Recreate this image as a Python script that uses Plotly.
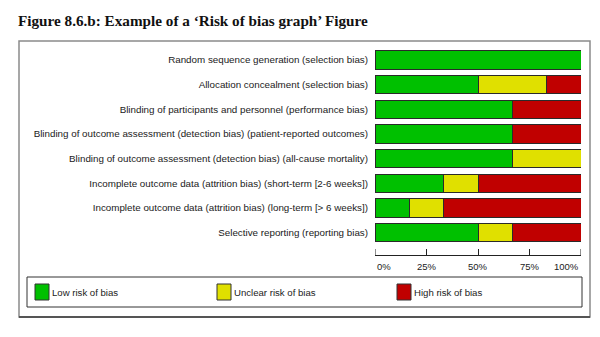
import plotly.graph_objects as go

# Risk-of-bias domains (top to bottom)
domains = [
    "Random sequence generation (selection bias)",
    "Allocation concealment (selection bias)",
    "Blinding of participants and personnel (performance bias)",
    "Blinding of outcome assessment (detection bias) (patient-reported outcomes)",
    "Blinding of outcome assessment (detection bias) (all-cause mortality)",
    "Incomplete outcome data (attrition bias) (short-term [2-6 weeks])",
    "Incomplete outcome data (attrition bias) (long-term [> 6 weeks])",
    "Selective reporting (reporting bias)",
]

# Percentage of studies in each judgement
low_risk = [100, 50, 66.7, 66.7, 66.7, 33.3, 16.7, 50]
unclear_risk = [0, 33.3, 0, 0, 33.3, 16.7, 16.7, 16.7]
high_risk = [0, 16.7, 33.3, 33.3, 0, 50, 66.7, 33.3]

x_ticks = [0, 25, 50, 75, 100]
x_tick_labels = ["0%", "25%", "50%", "75%", "100%"]

legend_labels = ["Low risk of bias", "Unclear risk of bias", "High risk of bias"]
colors = ["#00c000", "#e0e000", "#c00000"]

W, H = 600, 337
SANS = "Liberation Sans, Arial, sans-serif"


def px(x):
    return x / W


def py(y):
    return 1 - y / H


fig = go.Figure()
for vals, name, col in zip([low_risk, unclear_risk, high_risk], legend_labels, colors):
    fig.add_trace(go.Bar(
        y=domains, x=vals, orientation="h", name=name,
        marker=dict(color=col, line=dict(color="#2a2a2a", width=1)),
        showlegend=False, hoverinfo="x+y",
    ))

fig.update_layout(
    width=W, height=H,
    margin=dict(l=0, r=0, t=0, b=0),
    paper_bgcolor="white", plot_bgcolor="white",
    barmode="stack", bargap=0.25,
    xaxis=dict(
        domain=[px(375), px(581)], range=[0, 100],
        tickvals=x_ticks, showticklabels=False,
        ticks="inside", ticklen=6, tickcolor="#222", tickwidth=1,
        showline=True, linecolor="#222", linewidth=1,
        showgrid=False, zeroline=False, fixedrange=True,
        anchor="y",
    ),
    yaxis=dict(
        domain=[py(255), py(47.7)],
        categoryorder="array", categoryarray=domains,
        range=[7.91, -0.5],
        showgrid=False, zeroline=False, showline=False, ticks="",
        tickfont=dict(family=SANS, size=9.8, color="#1a1a1a"),
        ticklabelstandoff=6, fixedrange=True,
    ),
    font=dict(family=SANS),
)

shapes = []
# outer frame
shapes.append(dict(type="rect", xref="paper", yref="paper",
                   x0=px(19), x1=px(590), y0=py(317), y1=py(41),
                   line=dict(color="#8a8a8a", width=1.5)))
shapes.append(dict(type="line", xref="paper", yref="paper",
                   x0=px(19), x1=px(590), y0=py(317), y1=py(317),
                   line=dict(color="#555", width=2)))
# legend box
shapes.append(dict(type="rect", xref="paper", yref="paper",
                   x0=px(27), x1=px(582), y0=py(307), y1=py(277),
                   line=dict(color="#333", width=1)))
# tick marks at both ends of the percentage axis
for tv in (x_ticks[0], x_ticks[-1]):
    shapes.append(dict(type="line", xref="x", yref="paper",
                       x0=tv, x1=tv, y0=py(255), y1=py(249),
                       line=dict(color="#222", width=1)))

annotations = [dict(
    text="<b>Figure 8.6.b: Example of a \u2018Risk of bias graph\u2019 Figure</b>",
    xref="paper", yref="paper", x=px(16), y=py(20), xanchor="left", yanchor="middle",
    showarrow=False, font=dict(family="Liberation Serif, Times New Roman, serif", size=15.2, color="#111"),
)]

# percentage labels under the axis: end labels align to the axis ends
for i, (tv, tl) in enumerate(zip(x_ticks, x_tick_labels)):
    anchor = "left" if i == 0 else ("right" if i == len(x_ticks) - 1 else "center")
    annotations.append(dict(
        text=tl, xref="x", yref="paper", x=tv, y=py(266),
        xanchor=anchor, yanchor="middle", showarrow=False,
        font=dict(family=SANS, size=9.5, color="#222"),
    ))

# legend entries
legend_x = [35, 217, 397]
for lx, lab, col in zip(legend_x, legend_labels, colors):
    shapes.append(dict(type="rect", xref="paper", yref="paper",
                       x0=px(lx), x1=px(lx + 14), y0=py(300), y1=py(284),
                       fillcolor=col, line=dict(color="#333", width=1)))
    annotations.append(dict(
        text=lab, xref="paper", yref="paper", x=px(lx + 15), y=py(292),
        xanchor="left", yanchor="middle", showarrow=False,
        font=dict(family=SANS, size=9.6, color="#222"),
    ))

fig.update_layout(shapes=shapes, annotations=annotations)
fig.write_html("out.html", post_script="document.body.style.margin='0';")
